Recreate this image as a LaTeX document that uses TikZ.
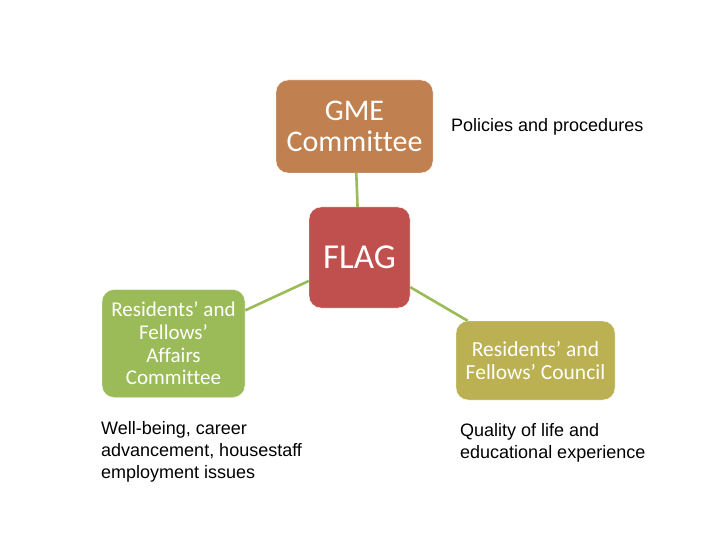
\documentclass[tikz,border=0pt]{standalone}
\usepackage{fontspec}
\setmainfont{Liberation Sans}
\newfontfamily\boxfont[Ligatures=NoCommon]{Carlito}
\usetikzlibrary{calc}
\definecolor{GmeBrown}{HTML}{C0804F}
\definecolor{FlagRed}{HTML}{C0504D}
\definecolor{AffairsGreen}{HTML}{9BBB59}
\definecolor{CouncilOlive}{HTML}{BBB152}
\definecolor{LinkGreen}{HTML}{9BBB59}

\tikzset{
  groupbox/.style={
    rounded corners=12pt,
    draw=white,
    text=white,
    inner sep=4pt,
    align=center
  },
  link/.style={draw=LinkGreen, line width=2.6pt},
  notetext/.style={
    inner sep=0pt,
    align=left,
    font=\fontsize{18}{22}\selectfont
  }
}

\begin{document}
\begin{tikzpicture}[x=1pt,y=-1pt]
  \useasboundingbox[fill=white] (0,0) rectangle (720,540);

  % committees around the FLAG
  \node[groupbox, fill=GmeBrown, minimum width=157pt, minimum height=93pt,
        font=\boxfont\fontsize{30}{31}\selectfont] (gme) at (354.5,126.5)
        {GME\\Committee};
  \node[groupbox, fill=FlagRed, minimum width=101pt, minimum height=101pt,
        font=\boxfont\fontsize{35}{36}\selectfont] (flag) at (359.5,257.5)
        {FLAG};
  \node[groupbox, fill=AffairsGreen, minimum width=143pt, minimum height=108pt,
        font=\boxfont\fontsize{21}{22.7}\selectfont] (affairs) at (173.5,343.5)
        {Residents’ and\\Fellows’\\Affairs\\Committee};
  \node[groupbox, fill=CouncilOlive, minimum width=159pt, minimum height=79pt,
        font=\boxfont\fontsize{21.5}{23}\selectfont] (council) at (535.5,360.5)
        {Residents’ and\\Fellows’ Council};

  \draw[link] (gme) -- (flag);
  \draw[link] (flag) -- (affairs);
  \draw[link] (flag) -- (council);

  % what each group looks after
  \node[notetext, anchor=west] (gmenote) at (451,127) {Policies and procedures};
  \node[notetext, anchor=north west] (affairsnote) at (101,421)
        {Well-being, career\\advancement, housestaff\\employment issues};
  \node[notetext, anchor=north west] (councilnote) at (460,423)
        {Quality of life and\\educational experience};
\end{tikzpicture}
\end{document}
